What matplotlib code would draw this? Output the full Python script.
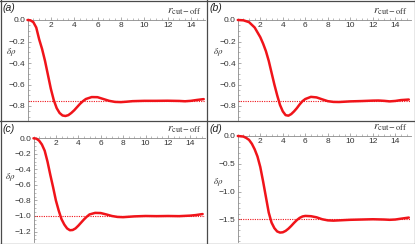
import matplotlib
matplotlib.use("Agg")
import matplotlib.pyplot as plt
from matplotlib.lines import Line2D
from matplotlib.ticker import MultipleLocator

# ---------------- data ----------------
x_a = [0, 0.25, 0.5, 0.75, 1.0, 1.25, 1.5, 1.75, 2.0, 2.25, 2.5, 2.75, 3.0, 3.25, 3.5, 3.75,
       4.0, 4.25, 4.5, 4.75, 5.0, 5.5, 6.0, 6.5, 7.0, 7.5, 8.0, 8.5, 9.0, 10, 11, 12, 13, 13.5,
       14, 14.5, 15.1]
y_a = [0, -0.003, -0.02, -0.07, -0.18, -0.27, -0.38, -0.51, -0.64, -0.745, -0.82, -0.865,
       -0.888, -0.893, -0.885, -0.865, -0.84, -0.81, -0.78, -0.755, -0.735, -0.717, -0.718,
       -0.735, -0.752, -0.762, -0.764, -0.760, -0.755, -0.752, -0.752, -0.751, -0.753, -0.756,
       -0.752, -0.744, -0.736]

x_b = [0, 0.5, 1.0, 1.5, 2.0, 2.25, 2.5, 2.75, 3.0, 3.25, 3.5, 3.75, 4.0, 4.25, 4.5, 4.75,
       5.0, 5.25, 5.5, 5.75, 6.0, 6.5, 7.0, 7.5, 8.0, 8.5, 9.0, 9.5, 10, 11, 12, 12.5, 13,
       13.5, 14, 14.5, 15.2]
y_b = [0, -0.003, -0.02, -0.07, -0.16, -0.22, -0.29, -0.38, -0.49, -0.60, -0.70, -0.79,
       -0.85, -0.885, -0.89, -0.875, -0.85, -0.82, -0.785, -0.755, -0.735, -0.715, -0.72,
       -0.738, -0.755, -0.762, -0.763, -0.76, -0.757, -0.754, -0.75, -0.749, -0.752, -0.757,
       -0.753, -0.745, -0.74]

x_c = [0, 0.25, 0.5, 0.75, 1.0, 1.25, 1.5, 1.75, 2.0, 2.25, 2.5, 2.75, 3.0, 3.25, 3.5, 3.75,
       4.0, 4.25, 4.5, 4.75, 5.0, 5.5, 6.0, 6.5, 7.0, 7.5, 8.0, 8.5, 9.0, 10, 11, 12, 13, 14,
       14.5, 15.1]
y_c = [0, -0.004, -0.03, -0.08, -0.16, -0.30, -0.47, -0.63, -0.80, -0.93, -1.04, -1.11,
       -1.16, -1.183, -1.18, -1.16, -1.125, -1.085, -1.045, -1.01, -0.98, -0.96, -0.962,
       -0.98, -1.0, -1.012, -1.015, -1.01, -1.005, -1.0, -1.002, -1.0, -1.002, -0.995,
       -0.988, -0.975]

x_d = [0, 0.5, 0.75, 1.0, 1.25, 1.5, 1.75, 2.0, 2.25, 2.5, 2.75, 3.0, 3.25, 3.5, 3.75, 4.0,
       4.25, 4.5, 4.75, 5.0, 5.25, 5.5, 5.75, 6.0, 6.5, 7.0, 7.5, 8.0, 8.5, 9.0, 10, 11, 12,
       13, 13.5, 14, 14.5, 15.2]
y_d = [0, -0.01, -0.035, -0.07, -0.14, -0.24, -0.37, -0.56, -0.82, -1.10, -1.38, -1.56,
       -1.66, -1.72, -1.74, -1.735, -1.71, -1.67, -1.62, -1.565, -1.515, -1.475, -1.45,
       -1.44, -1.445, -1.465, -1.50, -1.52, -1.525, -1.52, -1.51, -1.505, -1.50, -1.505,
       -1.51, -1.505, -1.49, -1.47]

targets = [-0.75, -0.75, -1.0, -1.5]
panel_labels = ["(a)", "(b)", "(c)", "(d)"]
x_ticks = [2, 4, 6, 8, 10, 12, 14]
x_tick_labels = ["2", "4", "6", "8", "10", "12", "14"]
y_ticks_ab = [0.0, -0.2, -0.4, -0.6, -0.8]
y_labels_ab = ["0.0", "\u22120.2", "\u22120.4", "\u22120.6", "\u22120.8"]
y_ticks_c = [0.0, -0.2, -0.4, -0.6, -0.8, -1.0, -1.2]
y_labels_c = ["0.0", "\u22120.2", "\u22120.4", "\u22120.6", "\u22120.8", "\u22121.0", "\u22121.2"]
y_ticks_d = [0.0, -0.5, -1.0, -1.5]
y_labels_d = ["0.0", "\u22120.5", "\u22121.0", "\u22121.5"]

series = [(x_a, y_a), (x_b, y_b), (x_c, y_c), (x_d, y_d)]
yticks = [(y_ticks_ab, y_labels_ab, 0.05), (y_ticks_ab, y_labels_ab, 0.05),
          (y_ticks_c, y_labels_c, 0.05), (y_ticks_d, y_labels_d, 0.1)]

# ---------------- layout (pixels) ----------------
W, H = 415, 244
# origin x, origin y, px per x-unit, px per y-unit, right px, bottom px, panel left, panel top
geo = [
    (27.5, 20.0, 11.67, 107.5, 205, 120, 0, 0),
    (237.8, 20.0, 11.25, 107.5, 411, 120, 207, 0),
    (33.5, 138.3, 11.2, 77.7, 205, 242, 0, 121),
    (237.8, 136.0, 11.25, 55.5, 411, 242, 207, 121),
]
ylabel_pos = [(6, 52), (213, 52), (5, 177), (213, 182)]

plt.rcParams['font.family'] = ['Liberation Sans', 'DejaVu Sans']
plt.rcParams['mathtext.fontset'] = 'stix'

fig = plt.figure(figsize=(W / 100, H / 100), dpi=100)
fig.patch.set_facecolor('white')

red = '#f0141a'
axis_col = '#8a8a8a'
txt_col = '#333333'

for i, ((xs, ys), (yt, yl, ymin), g) in enumerate(zip(series, yticks, geo)):
    ox, oy, sx, sy, R, B, pl, pt = g
    toppad = 1.5
    ax = fig.add_axes([ox / W, 1 - B / H, (R - ox) / W, (B - (oy - toppad)) / H])
    ax.set_xlim(0, (R - ox) / sx)
    ax.set_ylim(-(B - oy) / sy, toppad / sy)
    ax.patch.set_alpha(0)
    for s in ['top', 'right']:
        ax.spines[s].set_visible(False)
    ax.spines['bottom'].set_position(('data', 0))
    ax.spines['left'].set_position(('data', 0))
    for s in ['bottom', 'left']:
        ax.spines[s].set_color(axis_col)
        ax.spines[s].set_linewidth(0.6)

    ax.set_xticks(x_ticks, x_tick_labels)
    ax.xaxis.set_minor_locator(MultipleLocator(0.5))
    ax.set_yticks(yt, yl)
    ax.yaxis.set_minor_locator(MultipleLocator(ymin))
    ax.tick_params(axis='both', which='major', direction='in', length=2.5, width=0.5,
                   color=axis_col, labelsize=6, labelcolor=txt_col, pad=1.5)
    ax.tick_params(axis='both', which='minor', direction='in', length=1.3, width=0.4,
                   color=axis_col)

    ax.axhline(targets[i], color=red, lw=0.8, ls=(0, (1, 1.1)), zorder=2)
    ax.plot(xs, ys, color=red, lw=1.8, solid_capstyle='round', solid_joinstyle='round',
            clip_on=False, zorder=3)

    # panel label
    fig.text((pl + 3) / W, 1 - (pt + 8) / H, panel_labels[i], fontsize=7.5, style='italic',
             color='#222222', va='center', ha='left')
    # y label
    lx, ly = ylabel_pos[i]
    fig.text(lx / W, 1 - ly / H, r'$\delta\rho$',
             fontsize=6.5, color=txt_col, va='center', ha='left')
    # x label
    fig.text((R - 3) / W, 1 - (oy - 9) / H, r'$r_{\mathrm{cut-off}}$', fontsize=8.5,
             color=txt_col, va='center', ha='right')

# panel borders
bc = '#4a4a4a'
for xp in [0.5, 206.5, 414.5]:
    fig.add_artist(Line2D([xp / W, xp / W], [0, 1], color=bc, lw=0.9))
for yp in [0.5, 120.5, 243.5]:
    fig.add_artist(Line2D([0, 1], [1 - yp / H, 1 - yp / H], color=bc, lw=0.9))

fig.savefig('out.png', dpi=100, facecolor='white')
